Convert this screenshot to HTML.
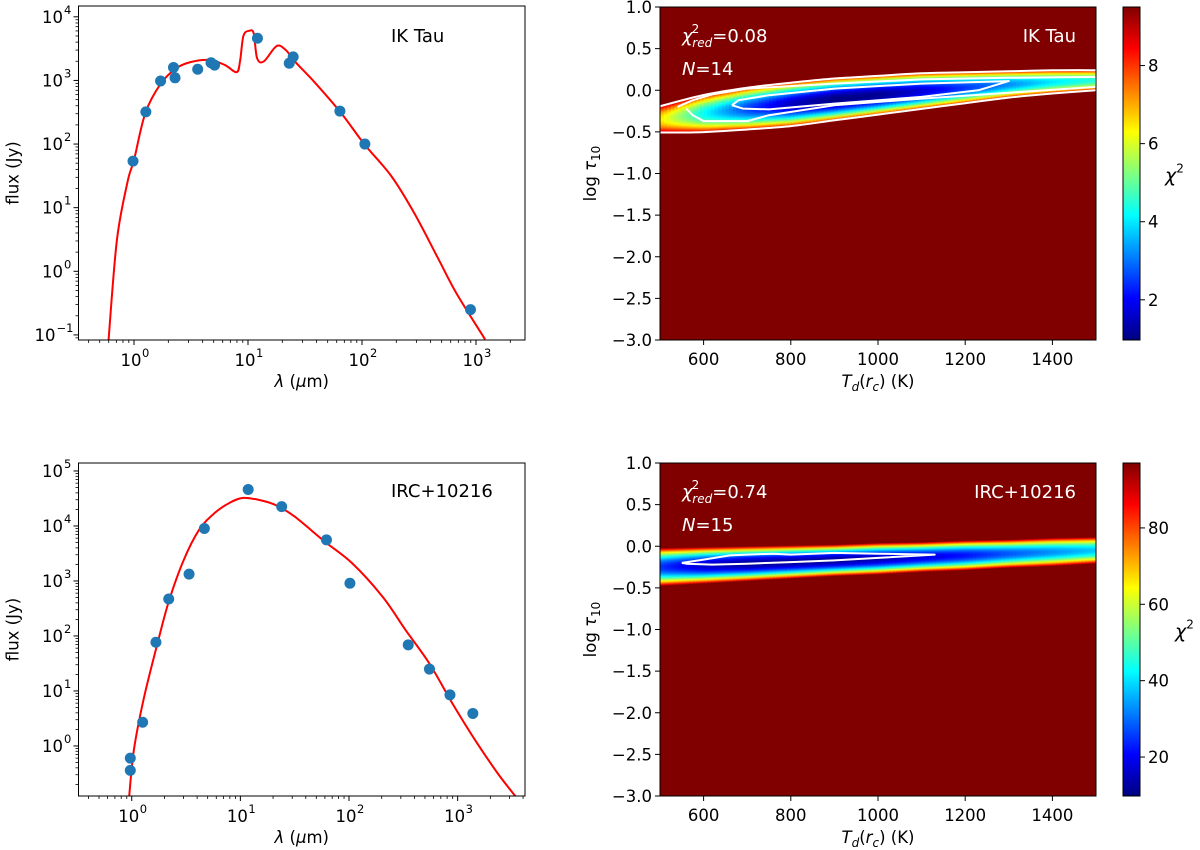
<!DOCTYPE html>
<html><head><meta charset="utf-8"><style>
html,body{margin:0;padding:0;background:#fff}
svg{display:block;font-family:"DejaVu Sans","Liberation Sans",sans-serif}
</style></head><body>
<svg id="fig" width="1200" height="850" viewBox="0 0 1200 850" xmlns="http://www.w3.org/2000/svg"></svg>
<script>
// ---------- DATA ----------
const ikLam = [0.98,1.27,1.71,2.22,2.29,3.62,4.74,5.09,12.1,23,24.9,64,106,895];
const ikFlux = [54,320,980,1600,1100,1500,1900,1740,4600,1860,2350,330,100,0.25];
const ikModelLogLam = [-0.224,-0.15,-0.056,0,0.1,0.235,0.37,0.5,0.67,0.8,0.9,0.93,0.96,1.01,1.05,1.08,1.14,1.25,1.33,1.41,1.58,1.82,2.02,2.26,2.46,2.66,2.83,3.08];
const ikModelLogFlux = [-1.09,0.49,1.41,1.75,2.49,2.95,3.19,3.29,3.32,3.24,3.13,3.30,3.70,3.78,3.74,3.35,3.30,3.54,3.48,3.30,2.98,2.48,2.00,1.49,0.91,0.23,-0.35,-1.07];
const ircLam = [0.97,0.97,1.26,1.67,2.19,3.37,4.66,11.8,24,62,102,351,550,850,1380];
const ircFlux = [0.6,0.36,2.7,77,470,1330,9000,46000,22500,5600,910,69,25,8.5,3.9];
const ircModelLogLam = [-0.023,0.02,0.108,0.23,0.337,0.478,0.62,0.76,0.9,1.025,1.18,1.325,1.5,1.78,2.03,2.31,2.52,2.74,2.95,3.16,3.37,3.53];
const ircModelLogFlux = [-0.91,-0.07,0.84,1.81,2.6,3.38,3.93,4.23,4.42,4.51,4.47,4.38,4.17,3.71,3.32,2.71,2.11,1.50,0.78,0.11,-0.50,-0.91];
const gridT = [500,600,700,800,900,1000,1100,1200,1300,1400,1500];
const ikCenter = [-0.35,-0.28,-0.22,-0.17,-0.11,-0.06,-0.01,0.03,0.07,0.1,0.12];
const ikHalf = [0.17,0.24,0.27,0.28,0.27,0.25,0.23,0.2,0.17,0.15,0.13];
const ikMin = [6.5,4.2,2.6,1.5,1.0,1.1,1.7,2.5,3.2,4.0,4.5];
const ircCenter = [-0.25,-0.23,-0.21,-0.19,-0.17,-0.15,-0.13,-0.11,-0.09,-0.07,-0.05];
const ircHalf = [0.23,0.22,0.21,0.2,0.19,0.19,0.18,0.18,0.17,0.17,0.16];
const ircMin = [25,16,12,12,12,14,18,22,28,33,38];
const ikInnerT = [665,680,750,900,1100,1300,1230,1100,900,750,690,665];
const ikInnerTau = [-0.18,-0.12,-0.06,0.02,0.08,0.11,0.0,-0.08,-0.16,-0.23,-0.22,-0.18];
const ikMidT = [540,575,620,700,900,1100,1300,1500,1500,1300,1100,900,750,700,600,575,560];
const ikMidTau = [-0.2,-0.12,-0.05,0.02,0.08,0.13,0.15,0.16,0.04,-0.03,-0.1,-0.18,-0.3,-0.37,-0.37,-0.3,-0.22];
const ircContT = [550,600,660,700,760,800,900,1000,1130,1000,900,800,700,620,560,550];
const ircContTau = [-0.2,-0.16,-0.11,-0.1,-0.09,-0.1,-0.08,-0.09,-0.1,-0.14,-0.17,-0.19,-0.21,-0.22,-0.21,-0.2];
const tauTicks = [1.0,0.5,0.0,-0.5,-1.0,-1.5,-2.0,-2.5,-3.0];
const tTicks = [600,800,1000,1200,1400];
const ikCbarTicks = [2,4,6,8];
const ircCbarTicks = [20,40,60,80];

// ---------- HELPERS ----------
const NS="http://www.w3.org/2000/svg";
const svg=document.getElementById('fig');
function mk(tag,attrs,parent){const e=document.createElementNS(NS,tag);for(const k in attrs)e.setAttribute(k,attrs[k]);(parent||svg).appendChild(e);return e;}
function jet(t){t=Math.max(0,Math.min(1,t));const c=v=>Math.round(255*Math.max(0,Math.min(1,v)));return `rgb(${c(1.5-Math.abs(4*t-3))},${c(1.5-Math.abs(4*t-2))},${c(1.5-Math.abs(4*t-1))})`;}
function interp(xs,ys,x){if(x<=xs[0])return ys[0];for(let i=1;i<xs.length;i++){if(x<=xs[i]){const f=(x-xs[i-1])/(xs[i]-xs[i-1]);return ys[i-1]+f*(ys[i]-ys[i-1]);}}return ys[ys.length-1];}
function smoothPath(P){let d=`M${P[0][0].toFixed(1)},${P[0][1].toFixed(1)}`;
  for(let i=0;i<P.length-1;i++){const p0=P[Math.max(0,i-1)],p1=P[i],p2=P[i+1],p3=P[Math.min(P.length-1,i+2)];
    const c1=[p1[0]+(p2[0]-p0[0])/6,p1[1]+(p2[1]-p0[1])/6],c2=[p2[0]-(p3[0]-p1[0])/6,p2[1]-(p3[1]-p1[1])/6];
    d+=` C${c1[0].toFixed(1)},${c1[1].toFixed(1)} ${c2[0].toFixed(1)},${c2[1].toFixed(1)} ${p2[0].toFixed(1)},${p2[1].toFixed(1)}`;}
  return d;}
let gid=0;
const TF=16.5, SF=11.5, LF=16.5, AF=18;

function sedPanel(P,lam,flux,mlx,mly,label,labelX,labelY,yDecades){
  const sx=v=>P.x0+(v-P.xmin)/(P.xmax-P.xmin)*(P.x1-P.x0);
  const sy=v=>P.y1-(v-P.ymin)/(P.ymax-P.ymin)*(P.y1-P.y0);
  const g=mk('g',{});
  
  
  const cid='clip'+(gid++);
  const cp=mk('clipPath',{id:cid},g);mk('rect',{x:P.x0,y:P.y0,width:P.x1-P.x0,height:P.y1-P.y0},cp);
  const pts=mlx.map((v,i)=>[sx(v),sy(mly[i])]);
  const line=mk('path',{d:smoothPath(pts),fill:'none',stroke:'#ff0000','stroke-width':2,'clip-path':`url(#${cid})`},g);
  
  
  lam.forEach((l,i)=>{
    const c=mk('circle',{cx:sx(Math.log10(l)),cy:sy(Math.log10(flux[i])),r:5.5,fill:'#1f77b4'},g);
    
    
  });
  mk('rect',{x:P.x0,y:P.y0,width:P.x1-P.x0,height:P.y1-P.y0,fill:'none',stroke:'#000','stroke-width':1},g);
  for(let d=Math.floor(P.xmin);d<=Math.ceil(P.xmax);d++){
    for(let m=1;m<10;m++){const v=d+Math.log10(m);if(v<P.xmin||v>P.xmax)continue;const X=sx(v);
      mk('line',{x1:X,x2:X,y1:P.y1,y2:P.y1+(m==1?5:3),stroke:'#000','stroke-width':m==1?1:0.8},g);
      if(m==1){const t=mk('text',{x:X-3,y:P.y1+26,'font-size':TF,'text-anchor':'middle'},g);t.textContent='10';
        const s=mk('text',{x:X+8,y:P.y1+17,'font-size':SF},g);s.textContent=String(d).replace('-','−');}
    }
  }
  for(let d=Math.floor(P.ymin);d<=Math.ceil(P.ymax);d++){
    for(let m=1;m<10;m++){const v=d+Math.log10(m);if(v<P.ymin||v>P.ymax)continue;const Y=sy(v);
      mk('line',{x1:P.x0,x2:P.x0-(m==1?5:3),y1:Y,y2:Y,stroke:'#000','stroke-width':m==1?1:0.8},g);
      if(m==1&&yDecades.includes(d)){const sup=String(d).replace('-','−');const w=sup.length*7.5;
        const t=mk('text',{x:P.x0-8-w,y:Y+6,'font-size':TF,'text-anchor':'end'},g);t.textContent='10';
        const s=mk('text',{x:P.x0-7-w,y:Y-3,'font-size':SF},g);s.textContent=sup;}
    }
  }
  const xl=mk('text',{x:(P.x0+P.x1)/2,y:P.y1+47,'font-size':LF,'text-anchor':'middle'},g);
  xl.innerHTML='<tspan font-style="italic">λ</tspan> (<tspan font-style="italic">μ</tspan>m)';
  
  
  const yl=mk('text',{x:0,y:0,'font-size':LF,'text-anchor':'middle',transform:`translate(${P.x0-60},${(P.y0+P.y1)/2}) rotate(-90)`},g);
  yl.textContent='flux (Jy)';
  
  
  const lb=mk('text',{x:labelX,y:labelY,'font-size':AF},g);lb.textContent=label;
  
  
}

function mapPanel(P,center,half,vmins,vmax,vminBar,cbTicks,contours,outer,chiTxt,nTxt,label){
  const sx=T=>P.x0+(T-500)/1000*(P.x1-P.x0);
  const sy=v=>P.y1-(v+3)/4*(P.y1-P.y0);
  const g=mk('g',{});
  
  
  const bg=mk('rect',{x:P.x0,y:P.y0,width:P.x1-P.x0,height:P.y1-P.y0,fill:jet(1)},g);
  
  
  const cid='clip'+(gid++);
  const cp=mk('clipPath',{id:cid},g);mk('rect',{x:P.x0,y:P.y0,width:P.x1-P.x0,height:P.y1-P.y0},cp);
  const defs=mk('defs',{},g);
  const N=120;
  for(let i=0;i<N;i++){
    const T=500+(i+0.5)*1000/N;
    const c=interp(gridT,center,T),h=interp(gridT,half,T),mn=interp(gridT,vmins,T);
    const id='gr'+(gid++);
    const lg=mk('linearGradient',{id:id,x1:0,y1:0,x2:0,y2:1},defs);
    for(let k=0;k<=24;k++){const f=k/24;const d=1-2*f;const v=mn+(vmax-mn)*d*d;
      mk('stop',{offset:f,'stop-color':jet((v-vminBar)/(vmax-vminBar))},lg);}
    const X0=sx(500+i*1000/N),X1=sx(500+(i+1)*1000/N);
    const r=mk('rect',{x:X0,y:sy(c+h),width:X1-X0+0.6,height:sy(c-h)-sy(c+h),fill:`url(#${id})`,'clip-path':`url(#${cid})`},g);
    
    
  }
  if(outer){[0.93,-0.93].forEach(s=>{
    const pts=gridT.map((T,i)=>[sx(T),sy(center[i]+s*half[i])]);
    const l=mk('path',{d:smoothPath(pts),fill:'none',stroke:'#fff','stroke-width':2,'clip-path':`url(#${cid})`},g);
    
    });}
  contours.forEach(([ts,vs])=>{
    const pts=ts.map((T,i)=>sx(T).toFixed(1)+','+sy(vs[i]).toFixed(1)).join(' ');
    const l=mk('polyline',{points:pts,fill:'none',stroke:'#fff','stroke-width':2,'stroke-linejoin':'round','clip-path':`url(#${cid})`},g);
    
    
  });
  mk('rect',{x:P.x0,y:P.y0,width:P.x1-P.x0,height:P.y1-P.y0,fill:'none',stroke:'#000','stroke-width':1},g);
  tauTicks.forEach(v=>{const Y=sy(v);mk('line',{x1:P.x0,x2:P.x0-5,y1:Y,y2:Y,stroke:'#000'},g);
    const t=mk('text',{x:P.x0-8,y:Y+6,'font-size':TF,'text-anchor':'end'},g);t.textContent=v.toFixed(1).replace('-','−');});
  tTicks.forEach(v=>{const X=sx(v);mk('line',{x1:X,x2:X,y1:P.y1,y2:P.y1+5,stroke:'#000'},g);
    const t=mk('text',{x:X,y:P.y1+25,'font-size':TF,'text-anchor':'middle'},g);t.textContent=v;});
  const xl=mk('text',{x:(P.x0+P.x1)/2,y:P.y1+47,'font-size':LF,'text-anchor':'middle'},g);
  xl.innerHTML='<tspan font-style="italic">T</tspan><tspan font-style="italic" font-size="12" dy="4">d</tspan><tspan dy="-4">(</tspan><tspan font-style="italic">r</tspan><tspan font-style="italic" font-size="12" dy="4">c</tspan><tspan dy="-4">) (K)</tspan>';
  
  
  const yl=mk('text',{x:0,y:0,'font-size':LF,'text-anchor':'middle',transform:`translate(${P.x0-64},${(P.y0+P.y1)/2}) rotate(-90)`},g);
  yl.innerHTML='log  <tspan font-style="italic">τ</tspan><tspan font-size="12" dy="4">10</tspan>';
  
  
  const t1=mk('text',{x:P.x0+22,y:P.y0+35,'font-size':AF,fill:'#fff'},g);
  t1.innerHTML='<tspan font-style="italic">χ</tspan><tspan font-size="12" dy="-9" dx="-1">2</tspan><tspan font-size="12" font-style="italic" dy="14" dx="-7">red</tspan><tspan dy="-5">='+chiTxt+'</tspan>';
  
  
  const t2=mk('text',{x:P.x0+22,y:P.y0+68,'font-size':AF,fill:'#fff'},g);
  t2.innerHTML='<tspan font-style="italic">N</tspan>='+nTxt;
  
  
  const t3=mk('text',{x:P.x1-20,y:P.y0+35,'font-size':AF,fill:'#fff','text-anchor':'end'},g);t3.textContent=label;
  
  
  const cb=mk('g',{},g);
  
  
  const id='cb'+(gid++);
  const lg=mk('linearGradient',{id:id,x1:0,y1:1,x2:0,y2:0},defs);
  for(let k=0;k<=16;k++)mk('stop',{offset:k/16,'stop-color':jet(k/16)},lg);
  mk('rect',{x:P.cx0,y:P.y0,width:P.cx1-P.cx0,height:P.y1-P.y0,fill:`url(#${id})`,stroke:'#000','stroke-width':1},cb);
  const cy=v=>P.y1-(v-vminBar)/(vmax-vminBar)*(P.y1-P.y0);
  cbTicks.forEach(v=>{const Y=cy(v);mk('line',{x1:P.cx1,x2:P.cx1+5,y1:Y,y2:Y,stroke:'#000'},cb);
    const t=mk('text',{x:P.cx1+8,y:Y+6,'font-size':TF},cb);t.textContent=v;});
  const cl=mk('text',{x:P.cx1+25+(vmax>50?10:0),y:(P.y0+P.y1)/2+8,'font-size':19},cb);
  cl.innerHTML='<tspan font-style="italic">χ</tspan><tspan font-size="12" dy="-9">2</tspan>';
  
  
}

sedPanel({name:'sed-ik-tau',x0:78.5,x1:525,y0:6,y1:340,xmin:-0.487,xmax:3.43,ymin:-1.08,ymax:4.17},
  ikLam,ikFlux,ikModelLogLam,ikModelLogFlux,'IK Tau',391,42,[-1,0,1,2,3,4]);
sedPanel({name:'sed-irc-10216',x0:78.5,x1:525,y0:463,y1:796,xmin:-0.49,xmax:3.62,ymin:-0.91,ymax:5.145},
  ircLam,ircFlux,ircModelLogLam,ircModelLogFlux,'IRC+10216',391,497,[0,1,2,3,4,5]);
mapPanel({name:'chi2-map-ik-tau',x0:660,x1:1096,y0:7,y1:340,cx0:1123,cx1:1140},
  ikCenter,ikHalf,ikMin,9.5,0.97,ikCbarTicks,[[ikInnerT,ikInnerTau],[ikMidT,ikMidTau]],true,'0.08','14','IK Tau');
mapPanel({name:'chi2-map-irc-10216',x0:660,x1:1096,y0:463,y1:796,cx0:1123,cx1:1140},
  ircCenter,ircHalf,ircMin,97,9.8,ircCbarTicks,[[ircContT,ircContTau]],false,'0.74','15','IRC+10216');
</script>
</body></html>
